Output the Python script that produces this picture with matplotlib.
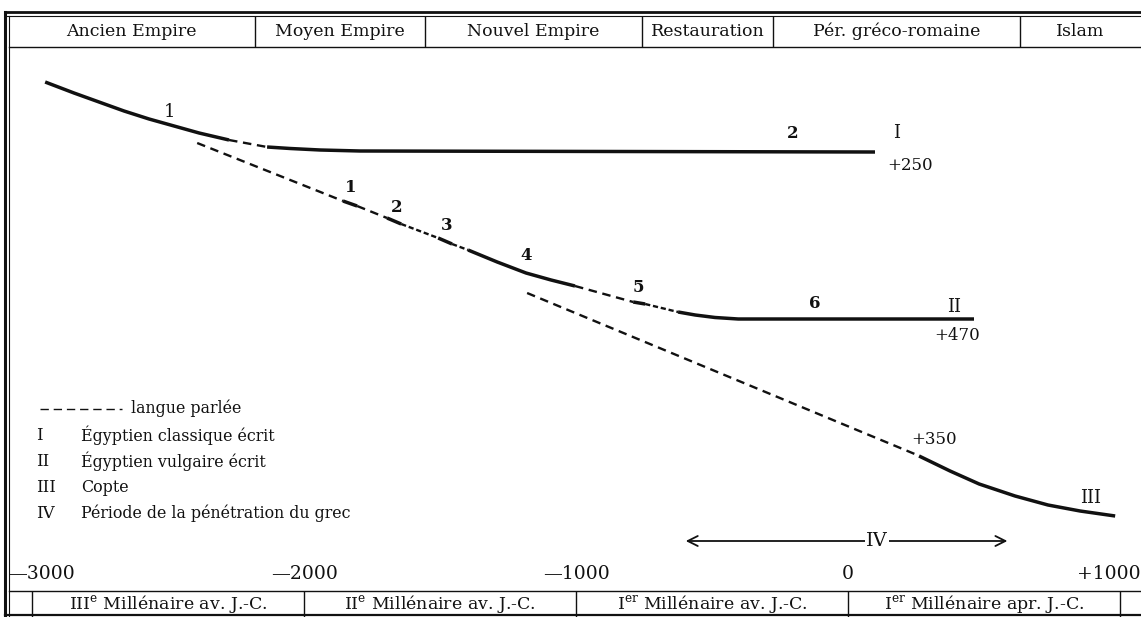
import matplotlib
matplotlib.use("Agg")
import matplotlib.pyplot as plt
from matplotlib.lines import Line2D

plt.rcParams['font.family'] = ['DejaVu Serif']
plt.rcParams['mathtext.fontset'] = 'custom'
plt.rcParams['mathtext.rm'] = 'DejaVu Serif'

W, H = 1141, 617

# periods in the header row (boundaries in years)
periods = ["Ancien Empire", "Moyen Empire", "Nouvel Empire", "Restauration",
           "Pér. gréco-romaine", "Islam"]
period_bounds = [-3118, -2180, -1555, -757, -276, 632, 1077]

# millennia in the bottom row
millennia = [r"III$^{\rm e}$ Millénaire av. J.-C.", r"II$^{\rm e}$ Millénaire av. J.-C.",
             r"I$^{\rm er}$ Millénaire av. J.-C.", r"I$^{\rm er}$ Millénaire apr. J.-C."]
tick_years = [-3000, -2000, -1000, 0, 1000]
tick_labels = ["—3000", "—2000", "—1000", "0", "+1000"]

# curve I (égyptien classique)
I_a_x = [-2952, -2846, -2754, -2662, -2570, -2478, -2386, -2276]
I_a_y = [82, 93, 102, 111, 119, 126, 133, 140]
I_link_x = [-2276, -2136]
I_link_y = [140, 147]
I_b_x = [-2136, -2051, -1941, -1794, 99]
I_b_y = [147, 148.5, 150, 151, 152]

# spoken language / égyptien vulgaire (II), segment by segment
II_dash1_x, II_dash1_y = [-2393, -1857], [143, 201]
II_s1_x, II_s1_y = [-1857, -1805], [201, 206]
II_dash2_x, II_dash2_y = [-1805, -1695], [206, 218]
II_s2_x, II_s2_y = [-1695, -1643], [218, 224]
II_dot3_x, II_dot3_y = [-1643, -1507], [224, 238]
II_s3_x, II_s3_y = [-1507, -1456], [238, 244]
II_dot4_x, II_dot4_y = [-1456, -1397], [244, 250]
II_s4_x = [-1397, -1290, -1184, -1092, -1004]
II_s4_y = [250, 262, 273, 280, 286]
II_dash5_x, II_dash5_y = [-1004, -790], [286, 302]
II_s5_x, II_s5_y = [-790, -746], [302, 304]
II_dot6_x, II_dot6_y = [-746, -625], [304, 312]
II_s6_x = [-625, -562, -489, -404, 463]
II_s6_y = [312, 315, 317.5, 319, 319]

# copte (III)
III_dash_x, III_dash_y = [-1180, 254], [293, 455]
III_x = [261, 375, 482, 614, 735, 853, 982]
III_y = [456, 471, 484, 496, 505, 511, 516]

# period of greek penetration (IV)
IV_span = [-607, 596]
IV_label_x = 106
IV_y = 541

# labels on the curves
plain_labels = [("1", -2493, 112), ("I", 180, 133), ("II", 390, 307), ("III", 890, 498)]
bold_labels = [("1", -1827, 187), ("2", -1658, 208), ("3", -1474, 225), ("4", -1184, 255),
               ("5", -772, 287), ("6", -121, 304), ("2", -202, 133)]
date_labels = [("+250", 228, 166), ("+470", 401, 336), ("+350", 316, 439)]

legend_lines = ["", "I", "II", "III", "IV"]
legend_texts = ["langue parlée", "Égyptien classique écrit", "Égyptien vulgaire écrit",
                "Copte", "Période de la pénétration du grec"]

fig = plt.figure(figsize=(W / 100, H / 100), dpi=100)
fig.patch.set_facecolor("white")
ax = fig.add_axes([0, 0, 1, 1])
ax.set_xlim(period_bounds[0], period_bounds[-1])
ax.set_ylim(H, 0)
ax.axis("off")

k = "#111111"
solid = dict(color=k, lw=2.5, solid_capstyle="butt")
dashed = dict(color=k, lw=1.7, dashes=(3.6, 2.4))
dotted = dict(color=k, lw=1.7, dashes=(2.2, 1.2))

# curves
ax.plot(I_a_x, I_a_y, **solid)
ax.plot(I_link_x, I_link_y, **dashed)
ax.plot(I_b_x, I_b_y, **solid)

ax.plot(II_dash1_x, II_dash1_y, **dashed)
ax.plot(II_s1_x, II_s1_y, **solid)
ax.plot(II_dash2_x, II_dash2_y, **dashed)
ax.plot(II_s2_x, II_s2_y, **solid)
ax.plot(II_dot3_x, II_dot3_y, **dotted)
ax.plot(II_s3_x, II_s3_y, **solid)
ax.plot(II_dot4_x, II_dot4_y, **dotted)
ax.plot(II_s4_x, II_s4_y, **solid)
ax.plot(II_dash5_x, II_dash5_y, **dashed)
ax.plot(II_s5_x, II_s5_y, **solid)
ax.plot(II_dot6_x, II_dot6_y, **dotted)
ax.plot(II_s6_x, II_s6_y, **solid)

ax.plot(III_dash_x, III_dash_y, **dashed)
ax.plot(III_x, III_y, **solid)

# IV arrow
ax.annotate("", xy=(IV_span[0], IV_y), xytext=(IV_span[1], IV_y),
            arrowprops=dict(arrowstyle="<->", lw=1.3, color=k, mutation_scale=18))
ax.text(IV_label_x, IV_y, "IV", ha="center", va="center", fontsize=14, color=k,
        bbox=dict(facecolor="white", edgecolor="none", pad=1))

for s, x, y in plain_labels:
    ax.text(x, y, s, ha="center", va="center", fontsize=13, color=k)
for s, x, y in bold_labels:
    ax.text(x, y, s, ha="center", va="center", fontsize=12, fontweight="bold", color=k)
for s, x, y in date_labels:
    ax.text(x, y, s, ha="center", va="center", fontsize=12, color=k)

# header row
ax.vlines(period_bounds[1:-1], 16, 47, color=k, lw=1.0)
for i, name in enumerate(periods):
    cx = (period_bounds[i] + period_bounds[i + 1]) / 2
    if i == 0:
        cx = (period_bounds[i] + 30 + period_bounds[i + 1]) / 2
    ax.text(cx, 31, name, ha="center", va="center", fontsize=12.5, color=k)

# bottom row
ax.vlines(tick_years, 591, H, color=k, lw=1.0)
for i, name in enumerate(millennia):
    cx = (tick_years[i] + tick_years[i + 1]) / 2
    ax.text(cx, 604, name, ha="center", va="center", fontsize=12.5, color=k)
for yr, lab in zip(tick_years, tick_labels):
    ha, x = "center", yr
    if yr == tick_years[0]:
        ha, x = "left", period_bounds[0] + 30
    if yr == tick_years[-1]:
        ha, x = "right", period_bounds[-1]
    ax.text(x, 574, lab, ha=ha, va="center", fontsize=13.5, color=k)

# legend block
leg_y = [408, 435, 461, 487, 513]
for lab, txt, y in zip(legend_lines, legend_texts, leg_y):
    x_txt = -2820 if lab else -2635
    if lab:
        ax.text(-2985, y, lab, ha="left", va="center", fontsize=12, color=k)
    ax.text(x_txt, y, txt, ha="left", va="center", fontsize=11.4, color=k)

# frame and legend dash sample
def fline(x0, y0, x1, y1, lw, **kw):
    fig.add_artist(Line2D([x0 / W, x1 / W], [1 - y0 / H, 1 - y1 / H],
                          transform=fig.transFigure, color=k, lw=lw, **kw))

fline(40, 409, 122, 409, 1.0, dashes=(6, 3.5))
fline(6, 12, W, 12, 2.0)
fline(6, 16, W, 16, 0.8)
fline(9, 47, W, 47, 1.0)
fline(5, 12, 5, H, 2.2)
fline(9, 16, 9, H, 0.8)
fline(9, 591, W, 591, 1.0)
fline(5, 615, W, 615, 1.6)

fig.savefig("out.png", dpi=100, facecolor="white")
